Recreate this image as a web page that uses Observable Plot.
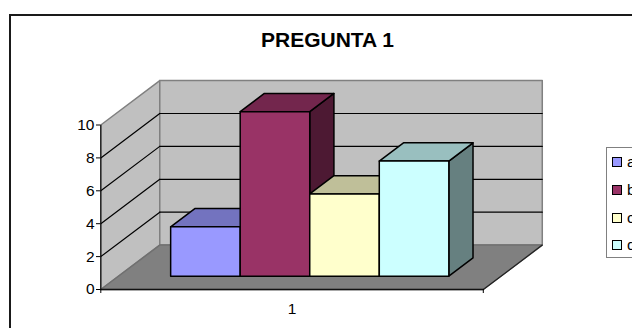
<!DOCTYPE html>
<html>
<head>
<meta charset="utf-8">
<script src="https://cdn.jsdelivr.net/npm/d3@7"></script>
<script src="https://cdn.jsdelivr.net/npm/@observablehq/plot@0.6"></script>
<style>
  html, body { margin: 0; padding: 0; background: #fff; }
  #page { position: relative; width: 632px; height: 328px; overflow: hidden; font-family: "Liberation Sans", Arial, sans-serif; color: #000; }
  #border { position: absolute; left: 9px; top: 14px; width: 700px; height: 400px; border: 2px solid #1a1a1a; }
  #title { position: absolute; left: 9px; width: 637px; top: 30px; text-align: center; font-weight: bold; font-size: 21px; line-height: 20px; white-space: nowrap; }
  #chart { position: absolute; left: 0; top: 0; }
  #legend { position: absolute; left: 605.5px; top: 146.5px; width: 80px; height: 109px; border: 1.5px solid #808080; }
  .key { position: absolute; left: 5px; width: 8px; height: 8px; border: 1px solid #000; }
  .name { position: absolute; left: 20.5px; font-size: 15.5px; line-height: 16px; }
</style>
</head>
<body>
<div id="page">
  <div id="border"></div>
  <div id="chart"></div>
  <div id="title">PREGUNTA 1</div>
  <div id="legend"></div>
</div>
<script>
const categories = ["a", "b", "c", "d"];
const values = [3, 10, 5, 7];
const frontColors = ["#9999ff", "#993366", "#ffffcc", "#ccffff"];
const topColors = ["#7373bf", "#73264d", "#bfbf99", "#99bfbf"];
const sideColors = ["#4d4d80", "#4d1933", "#808066", "#668080"];
const yTicks = [0, 2, 4, 6, 8, 10];
const groupLabel = "1";

// Oblique projection: depth 0 is the front of the floor, depth 1 the back wall.
const gap = 0.75;
const left = -gap;
const right = categories.length + gap;
const depthX = 0.848;
const depthY = 2.7;
const barFront = 0.30;
const barBack = 0.71;
const yMax = 10;

const at = (slot, value, depth) => ({x: slot + depth * depthX, y: value + depth * depthY});

const face = (points, fill, stroke, strokeWidth = 1.5) =>
  Plot.line([...points, points[0]], {x: "x", y: "y", fill, stroke, strokeWidth, strokeLinejoin: "round"});
const edge = (points, stroke, strokeWidth = 1.2) =>
  Plot.line(points, {x: "x", y: "y", stroke, strokeWidth});

const walls = [
  face([at(left, 0, 0), at(left, yMax, 0), at(left, yMax, 1), at(left, 0, 1)], "#c0c0c0", "#808080"),
  face([at(left, 0, 1), at(left, yMax, 1), at(right, yMax, 1), at(right, 0, 1)], "#c0c0c0", "#808080"),
  face([at(left, 0, 0), at(left, 0, 1), at(right, 0, 1), at(right, 0, 0)], "#808080", "#707070")
];

// Gridlines run along the side wall and across the back wall; the top value is the wall's own edge.
const grid = yTicks.filter((t) => t > 0 && t < yMax).flatMap((t) => [
  edge([at(left, t, 0), at(left, t, 1)], "#000"),
  edge([at(left, t, 1), at(right, t, 1)], "#000")
]);

const floorEdges = [
  edge([at(left, 0, 0), at(right, 0, 0)], "#111", 1.5),
  edge([at(right, 0, 0), at(right, 0, 1)], "#222", 1.2),
  edge([at(left, 0, 0), at(left, yMax, 0)], "#111", 1.2)
];

const bars = categories.flatMap((_, i) => {
  const v = values[i];
  return [
    face([at(i + 1, 0, barFront), at(i + 1, v, barFront), at(i + 1, v, barBack), at(i + 1, 0, barBack)], sideColors[i], "#000"),
    face([at(i, v, barFront), at(i, v, barBack), at(i + 1, v, barBack), at(i + 1, v, barFront)], topColors[i], "#000"),
    face([at(i, 0, barFront), at(i, v, barFront), at(i + 1, v, barFront), at(i + 1, 0, barFront)], frontColors[i], "#000")
  ];
});

const plot = Plot.plot({
  width: 632,
  height: 328,
  marginLeft: 100,
  marginBottom: 39,
  marginTop: 0,
  marginRight: 0,
  style: {background: "transparent", fontFamily: "'Liberation Sans', Arial, sans-serif", overflow: "visible", color: "#000"},
  x: {domain: [left, right], range: [100.3, 482.8]},
  y: {domain: [0, yMax], range: [289, 124.5]},
  marks: [
    ...walls,
    ...grid,
    ...floorEdges,
    ...bars,
    Plot.axisY({ticks: yTicks, tickSize: 4, tickPadding: 2, fontSize: 15.5, label: null, tickFormat: (d) => d}),
    Plot.axisX({ticks: [left, right], tickSize: 4, tickFormat: () => "", label: null}),
    Plot.axisX({ticks: [(left + right) / 2], tickSize: 0, tickPadding: 13, fontSize: 15.5, label: null, tickFormat: () => groupLabel})
  ]
});
document.getElementById("chart").append(plot);

// Legend rows, one swatch and name per category.
const legend = document.getElementById("legend");
const rowTops = [9, 37, 65, 92];
categories.forEach((name, i) => {
  const key = document.createElement("div");
  key.className = "key";
  key.style.top = rowTops[i] + "px";
  key.style.background = frontColors[i];
  legend.append(key);
  const label = document.createElement("div");
  label.className = "name";
  label.style.top = rowTops[i] - 3 + "px";
  label.textContent = name;
  legend.append(label);
});
</script>
</body>
</html>
